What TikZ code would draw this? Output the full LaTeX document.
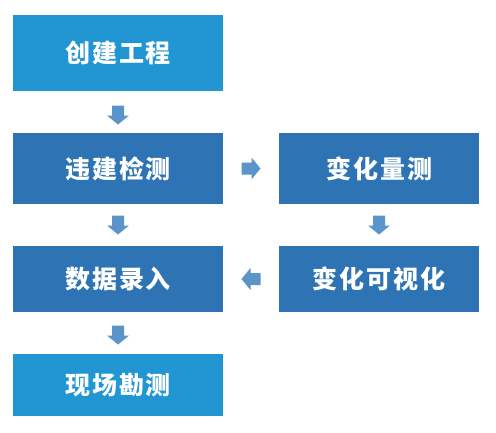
\documentclass[tikz,border=0pt]{standalone}
\usepackage{fontspec}
\newfontfamily\cjk[LetterSpace=8]{Noto Sans CJK SC}
\usetikzlibrary{calc}
\definecolor{lightb}{HTML}{2196D2}
\definecolor{darkb}{HTML}{2E74B5}
\definecolor{arrc}{HTML}{5B94C8}
\tikzset{
  box/.style={fill=#1, draw=none, text=white, inner sep=0pt,
    font=\cjk\bfseries\fontsize{25}{25}\selectfont},
  pics/blockarr/.style={code={
    \fill[arrc] (-9.5,-6) -- (0.5,-6) -- (0.5,-11) -- (9.5,0) -- (0.5,11) -- (0.5,6) -- (-9.5,6) -- cycle;
  }}
}
\begin{document}
\begin{tikzpicture}[x=1pt,y=-1pt]
\useasboundingbox (0,0) rectangle (496,432);
\node[box=lightb, minimum width=210pt, minimum height=76pt] (a) at (118,53) {创建工程};
\node[box=darkb, minimum width=210pt, minimum height=71pt] (b) at (118,168.5) {违建检测};
\node[box=darkb, minimum width=200pt, minimum height=71pt] (c) at (379,168.5) {变化量测};
\node[box=darkb, minimum width=210pt, minimum height=66pt] (d) at (118,279) {数据录入};
\node[box=darkb, minimum width=200pt, minimum height=66pt] (e) at (379,279) {变化可视化};
\node[box=lightb, minimum width=210pt, minimum height=62pt] (f) at (118,385) {现场勘测};
\pic[rotate=-90] at ($($(a.south)!0.5!(b.north)$)+(0,3)$) {blockarr};
\pic[rotate=-90] at ($(b.south)!0.5!(d.north)$) {blockarr};
\pic[rotate=-90] at ($($(d.south)!0.5!(f.north)$)+(0,2)$) {blockarr};
\pic at ($(b.east)!0.5!(c.west)$) {blockarr};
\pic[rotate=-90] at ($(c.south)!0.5!(e.north)$) {blockarr};
\pic[rotate=180] at ($(e.west)!0.5!(d.east)$) {blockarr};
\end{tikzpicture}
\end{document}
